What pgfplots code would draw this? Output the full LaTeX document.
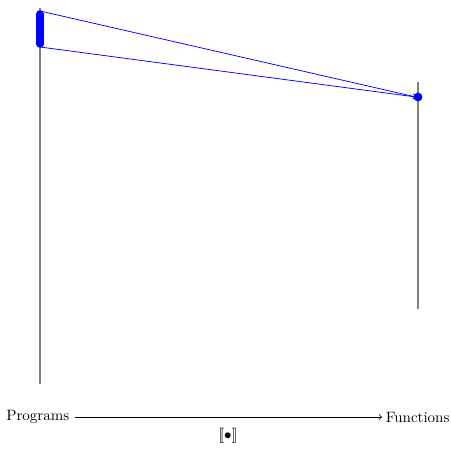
\documentclass[border=0pt]{standalone}
\usepackage{pgfplots}
\pgfplotsset{compat=1.18}
\begin{document}
\begin{tikzpicture}
\begin{axis}[
  scale only axis, width=252pt, height=250.7pt,
  xmin=40, xmax=418, ymin=60, ymax=436,
  axis lines=none, clip=false,
]
\path (axis cs:0,0) (axis cs:451,444);
% vertical axes
\addplot[gray, line width=1.3pt] coordinates {(40,60) (40,436)};
\addplot[gray, line width=1.3pt] coordinates {(418,135) (418,362)};
% thick blue segment
\addplot[blue, line width=5pt, line cap=round] coordinates {(40,430) (40,400)};
% mapping lines
\addplot[blue, line width=0.5pt, ->] coordinates {(40,433) (416,347)};
\addplot[blue, line width=0.5pt, ->] coordinates {(40,397) (416,347)};
% image point
\addplot[only marks, mark=*, mark size=2.7pt, blue] coordinates {(418,347)};
% bottom arrow
\draw[->, line width=0.5pt] (axis cs:75,27) -- (axis cs:382,27);
\node[anchor=east, inner sep=1pt] at (axis cs:71,27) {Programs};
\node[anchor=west, inner sep=1pt] at (axis cs:384,27) {Functions};
\node at (axis cs:228,8) {$[\![\bullet]\!]$};
\end{axis}
\end{tikzpicture}
\end{document}
